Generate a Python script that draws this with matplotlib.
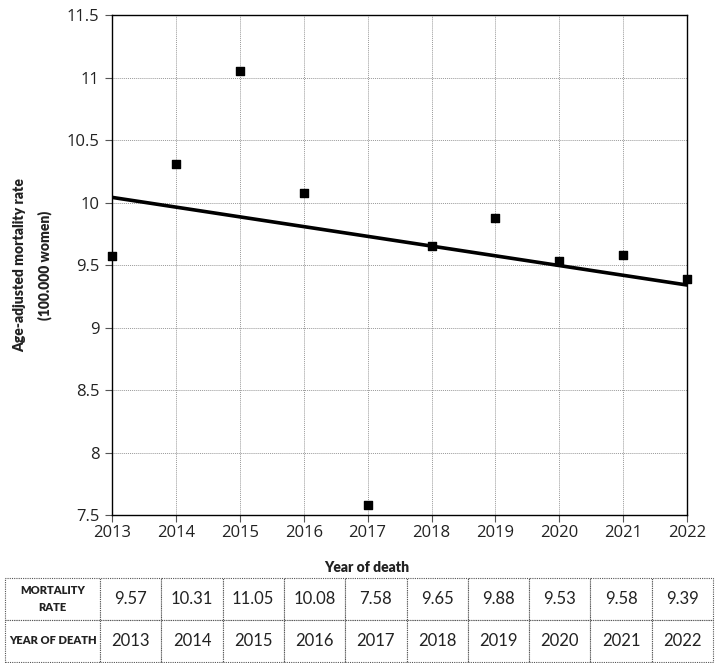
import numpy as np, matplotlib
matplotlib.use('Agg')
import matplotlib.pyplot as plt

plt.rcParams.update({'font.family': ['Lato', 'DejaVu Sans'], 'font.size': 11})

years = [2013, 2014, 2015, 2016, 2017, 2018, 2019, 2020, 2021, 2022]
rates = [9.57, 10.31, 11.05, 10.08, 7.58, 9.65, 9.88, 9.53, 9.58, 9.39]
yticks = [7.5, 8, 8.5, 9, 9.5, 10, 10.5, 11, 11.5]
ytick_labels = ['7.5', '8', '8.5', '9', '9.5', '10', '10.5', '11', '11.5']
row_headers = ['MORTALITY\nRATE', 'YEAR OF DEATH']

fig = plt.figure(figsize=(7.18, 6.63), dpi=100)
ax = fig.add_axes([0.156, 0.223, 0.801, 0.754])

x = np.array(years)
y = np.array(rates)
slope, icpt = np.polyfit(x, y, 1)
ax.plot(x, slope * x + icpt + 0.03, color='black', linewidth=2.6, zorder=3)
ax.scatter(x, y, marker='s', s=38, color='black', zorder=4, clip_on=False)

ax.set_xlim(2013, 2022)
ax.set_ylim(7.5, 11.5)
ax.set_xticks(years)
ax.set_xticklabels([str(v) for v in years], family='Open Sans', fontsize=12)
ax.set_yticks(yticks)
ax.set_yticklabels(ytick_labels, family='Open Sans', fontsize=12)
ax.grid(True, color='#999999', linestyle=(0, (1, 1)), linewidth=0.7)
ax.set_axisbelow(True)
for s in ax.spines.values():
    s.set_color('black'); s.set_linewidth(1.0)
ax.tick_params(axis='both', length=5, width=0.8, color='#555555', labelcolor='#222222')
ax.tick_params(axis='y', pad=4)
ax.tick_params(axis='x', pad=2)

ax.set_ylabel('Age-adjusted mortality rate\n(100.000 women)', fontsize=10, fontweight='heavy',
              linespacing=1.9, color='#222222')
ax.yaxis.set_label_coords(-0.105, 0.5)
ax.set_xlabel('Year of death', fontsize=10, fontweight='heavy', color='#222222')
ax.xaxis.set_label_coords(0.443, -0.092)

# table
tax = fig.add_axes([5/718, 1 - 662/663, 708/718, 84/663])
tax.axis('off')
cells = [[row_headers[0]] + [f'{v:.2f}' for v in rates],
         [row_headers[1]] + [str(v) for v in years]]
first_w = 95 / 708
col_w = [first_w] + [(1 - first_w) / len(years)] * len(years)
tbl = tax.table(cellText=cells, colWidths=col_w, bbox=[0, 0, 1, 1], cellLoc='center')
tbl.auto_set_font_size(False)
for (r, c), cell in tbl.get_celld().items():
    cell.set_edgecolor('#555555')
    cell.set_linestyle((0, (1, 1)))
    cell.set_linewidth(0.8)
    t = cell.get_text()
    if c == 0:
        t.set_fontsize(8)
        t.set_fontweight('heavy')
        t.set_linespacing(1.6)
    else:
        t.set_fontsize(12)
    t.set_color('#222222')

fig.savefig('out.png', dpi=100)
